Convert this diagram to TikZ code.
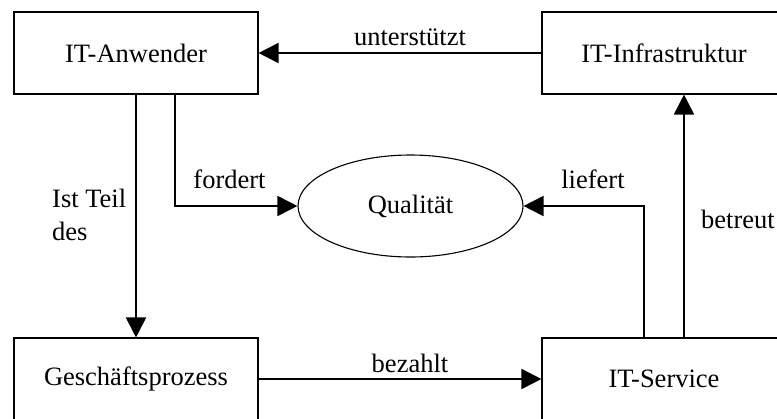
\documentclass[tikz,border=0pt]{standalone}
\usepackage{fontspec}
\setmainfont{Liberation Serif}
\usetikzlibrary{arrows.meta,shapes.geometric}
\begin{document}
\begin{tikzpicture}[x=1pt,y=-1pt,
  every node/.style={font=\fontsize{26.5}{33}\selectfont},
  box/.style={draw,line width=1.1pt,minimum width=244pt,minimum height=82pt,inner sep=0pt},
  oval/.style={draw,ellipse,line width=1.1pt,minimum width=225pt,minimum height=102pt,inner sep=0pt},
  arr/.style={line width=1.7pt,-{Triangle[length=20pt,width=20pt]}},
  lbl/.style={anchor=base,inner sep=0pt}]
\useasboundingbox (0,0) rectangle (777,418);
\clip (0,0) rectangle (777,418);
\fill[white] (0,0) rectangle (777,418);
% entities
\node[box] (anw)   at (136,53)  {IT-Anwender};
\node[box] (infra) at (664,53)  {IT-Infrastruktur};
\node[box] (gp)    at (136,379) {Geschäftsprozess};
\node[box] (svc)   at (664,379) {IT-Service};
\node[oval] (qual) at (410.5,206) {Qualität};
% relations
\draw[arr] (infra.west) -- (anw.east);
\draw[arr] (anw.south) -- (gp.north);
\draw[arr] ([xshift=39pt]anw.south) |- (qual.west);
\draw[arr] ([xshift=-20pt]svc.north) |- (qual.east);
\draw[arr] ([xshift=20pt]svc.north) -- ([xshift=20pt]infra.south);
\draw[arr] (gp.east) -- (svc.west);
% relation labels
\node[lbl] (lu) at (410,45)  {unterstützt};
\node[lbl] (lf) at (229.5,188) {fordert};
\node[lbl] (ll) at (593,188) {liefert};
\node[lbl,anchor=base west] (li) at (52,207) {Ist Teil};
\node[lbl,anchor=base west] (ld) at (52,240) {des};
\node[lbl,anchor=base west] (lb) at (701,228) {betreut};
\node[lbl] (lz) at (410,372) {bezahlt};
\end{tikzpicture}
\end{document}
